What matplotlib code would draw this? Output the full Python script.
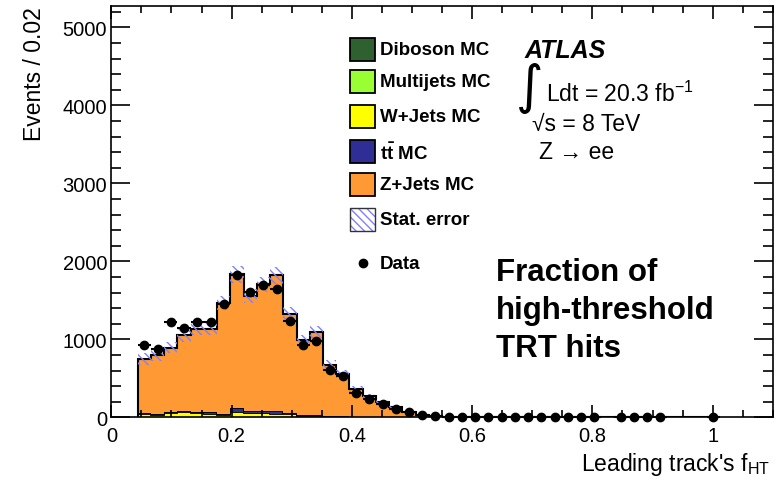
import numpy as np
import matplotlib
matplotlib.use("Agg")
import matplotlib.pyplot as plt
from matplotlib.patches import Rectangle
from matplotlib.ticker import MultipleLocator

plt.rcParams["font.family"] = ["Liberation Sans", "DejaVu Sans"]
plt.rcParams["mathtext.fontset"] = "custom"
plt.rcParams["mathtext.rm"] = "Liberation Sans"
plt.rcParams["mathtext.it"] = "Liberation Sans:italic"
plt.rcParams["mathtext.bf"] = "Liberation Sans:bold"
plt.rcParams["hatch.linewidth"] = 1.0

# binning of the leading track f_HT histogram
bin_lo = 0.044
bin_width = 0.022
n_bins = 44

# MC stack (events per bin)
diboson = [5, 4, 5, 5, 5, 5, 4, 6, 5, 5, 5, 4, 3, 3, 2, 2, 1, 1, 1]
multijets = [3, 3, 3, 3, 3, 3, 3, 3, 3, 3, 3, 3, 2, 2, 2, 1, 1, 1]
wjets = [35, 20, 50, 60, 45, 35, 20, 65, 45, 45, 40, 35, 10, 10, 8, 5, 3, 2, 1]
ttbar = [15, 20, 15, 15, 20, 25, 10, 40, 30, 30, 30, 15, 10, 20, 5, 5, 3, 2, 1]
zjets = [687, 753, 822, 969, 1056, 1061, 1433, 1718, 1472, 1622, 1742, 1264,
         963, 1060, 652, 541, 352, 262, 189, 128, 64, 29, 15, 8, 5, 3, 2, 1, 1]
stat_err = [80, 75, 75, 80, 80, 80, 90, 110, 90, 95, 110, 90, 70, 75, 60, 55,
            40, 35, 25, 20, 12, 8, 5, 3, 2, 1, 1, 0, 0]

# data
data = [925, 882, 1222, 1142, 1222, 1222, 1449, 1820, 1611, 1692, 1650, 1235,
        925, 980, 605, 524, 311, 234, 170, 106, 72, 29, 13, 8, 5, 4, 3, 2, 2,
        1, 1, 1, 1, 1, 1, np.nan, 1, 1, 1, 1, np.nan, np.nan, np.nan, 1]

labels = ["Diboson MC", "Multijets MC", "W+Jets MC", r"$\mathbf{t\bar{t}}$ MC", "Z+Jets MC"]
colors = ["#2f6030", "#99ff33", "#ffff00", "#2e2e96", "#ff9933"]
hatch_col = "#8080ff"


def pad(v):
    out = np.zeros(n_bins)
    out[:len(v)] = v
    return out


edges = bin_lo + bin_width * np.arange(n_bins + 1)
centers = edges[:-1] + bin_width / 2

fig = plt.figure(figsize=(7.84, 4.85), dpi=100)
ax = fig.add_axes([0.142, 0.1375, 0.8437, 0.8475])


def ax_xy(px, py):
    # pixel position in the figure -> axes fraction
    return (px - 111.3) / 661.4, (418.3 - py) / 411.0


# stacked MC
bottom = np.zeros(n_bins)
for comp, c in zip([diboson, multijets, wjets, ttbar, zjets], colors):
    top = bottom + pad(comp)
    ax.stairs(top, edges, baseline=bottom, fill=True, color=c, lw=0)
    ax.stairs(top, edges, baseline=None, color="black", lw=1.3)
    bottom = top
ax.stairs(bottom, edges, baseline=0, color="black", lw=1.5)

# stat error band
err = pad(stat_err)
ax.stairs(bottom + err, edges, baseline=bottom - err, fill=True,
          facecolor="none", edgecolor=hatch_col, hatch="\\\\\\\\", lw=0)

# data points
ax.errorbar(centers, data, xerr=bin_width / 2, fmt="o", color="black",
            ms=6, elinewidth=1.5, capsize=0, clip_on=False, zorder=5)

ax.set_xlim(0, 1.1)
ax.set_ylim(0, 5270)
ax.xaxis.set_major_locator(MultipleLocator(0.2))
ax.xaxis.set_minor_locator(MultipleLocator(0.05))
ax.yaxis.set_major_locator(MultipleLocator(1000))
ax.yaxis.set_minor_locator(MultipleLocator(200))
ax.set_xticks([0, 0.2, 0.4, 0.6, 0.8, 1.0], ["0", "0.2", "0.4", "0.6", "0.8", "1"])
ax.tick_params(axis="both", which="both", direction="in", top=True, right=True,
               labelsize=14.5, width=1.2, colors="black")
ax.tick_params(axis="y", which="major", length=13.5, pad=3)
ax.tick_params(axis="y", which="minor", length=7)
ax.tick_params(axis="x", which="major", length=9, pad=6)
ax.tick_params(axis="x", which="minor", length=5)
for s in ax.spines.values():
    s.set_linewidth(1.2)

ax.set_ylabel("Events / 0.02", loc="top", fontsize=16.5)
ax.yaxis.set_label_coords(ax_xy(46, 0)[0], 1.0)
ax.set_xlabel(r"Leading track's f$_{\mathrm{HT}}$", fontsize=16.5, ha="right", va="top")
ax.xaxis.set_label_coords(ax_xy(770, 0)[0], ax_xy(0, 451)[1])

# legend, drawn by hand to follow the reference spacing
leg_rows = [50.7, 83, 118, 153, 186, 221]
for i, lab in enumerate(labels + ["Stat. error"]):
    bx, by = ax_xy(350, leg_rows[i] + 11.5)
    w = 25 / 661.4
    h = 23 / 411.0
    if i < len(colors):
        ax.add_patch(Rectangle((bx, by), w, h, transform=ax.transAxes,
                               facecolor=colors[i], edgecolor="black", lw=1.3,
                               clip_on=False))
    else:
        ax.add_patch(Rectangle((bx, by), w, h, transform=ax.transAxes,
                               facecolor="white", edgecolor=hatch_col, lw=0,
                               hatch="\\\\\\\\", clip_on=False))
        ax.add_patch(Rectangle((bx, by), w, h, transform=ax.transAxes,
                               facecolor="none", edgecolor="#333333", lw=1.0,
                               clip_on=False))
    tx, ty = ax_xy(380, leg_rows[i])
    ax.text(tx, ty, lab, transform=ax.transAxes, fontsize=13.5,
            fontweight="bold", va="center", ha="left")
mx, my = ax_xy(362.5, 264)
ax.plot([mx], [my], "o", color="black", ms=6, transform=ax.transAxes)
tx, ty = ax_xy(380, 265)
ax.text(tx, ty, "Data", transform=ax.transAxes, fontsize=13.5,
        fontweight="bold", va="center", ha="left")

# ATLAS labels
ax.text(*ax_xy(524, 51), "ATLAS", transform=ax.transAxes, fontsize=18,
        fontweight="bold", fontstyle="italic", va="center", ha="left")
ax.text(*ax_xy(516, 88), "\u222b", transform=ax.transAxes, fontsize=38,
        family="DejaVu Sans", va="center", ha="left")
ax.text(*ax_xy(546, 94), r"Ldt = 20.3 fb$^{-1}$", transform=ax.transAxes,
        fontsize=16.5, va="center", ha="left")
ax.text(*ax_xy(532, 124), "\u221as = 8 TeV", transform=ax.transAxes,
        fontsize=16.5, va="center", ha="left")
ax.text(*ax_xy(539, 153), "Z \u2192 ee", transform=ax.transAxes,
        fontsize=16.5, va="center", ha="left")

ax.text(*ax_xy(496, 311), "Fraction of\nhigh-threshold\nTRT hits", transform=ax.transAxes,
        fontsize=22.5, fontweight="bold", va="center", ha="left", linespacing=1.34)

fig.savefig("out.png", dpi=100)
